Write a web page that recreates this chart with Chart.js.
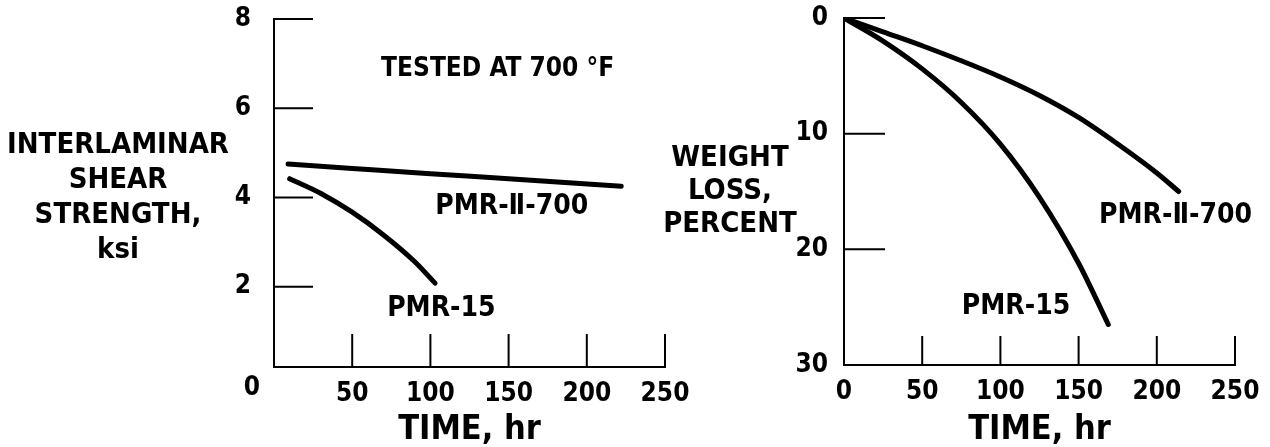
<!DOCTYPE html>
<html>
<head>
<meta charset="utf-8">
<script src="https://cdn.jsdelivr.net/npm/chart.js@4.4.1/dist/chart.umd.min.js"></script>
<style>
  html, body { margin: 0; padding: 0; background: #fff; }
  body { width: 1270px; height: 447px; position: relative; overflow: hidden; }
  canvas { position: absolute; top: 0; }
  #left { left: 0; }
  #right { left: 640px; }
</style>
</head>
<body>
<canvas id="left" width="700" height="447"></canvas>
<canvas id="right" width="630" height="447"></canvas>
<script>
// ---------- data ----------
const timeTicks = [0, 50, 100, 150, 200, 250];
const shearTicks = [2, 4, 6, 8];
const lossTicks = [0, 10, 20, 30];

// Interlaminar shear strength (ksi) vs time (hr), tested at 700 F
const shearPmr2Time = [9, 50, 100, 150, 222];
const shearPmr2Value = [4.75, 4.65, 4.53, 4.42, 4.25];
const shearPmr15Time = [10, 30, 50, 70, 90, 103];
const shearPmr15Value = [4.42, 4.09, 3.67, 3.16, 2.56, 2.08];

// Weight loss (percent) vs time (hr)
const lossPmr2Time = [0, 25, 50, 75, 100, 125, 150, 175, 200, 214];
const lossPmr2Value = [0, 1.2, 2.4, 3.7, 5.1, 6.7, 8.6, 10.9, 13.4, 15.0];
const lossPmr15Time = [0, 25, 50, 75, 100, 125, 150, 169];
const lossPmr15Value = [0, 2.0, 4.4, 7.3, 10.9, 15.5, 21.2, 26.5];

// ---------- styling ----------
const FAMILY = '"Liberation Sans Narrow", "DejaVu Sans Condensed", "Arial Narrow", sans-serif';
const font = (s) => `bold ${s}px ${FAMILY}`;
const zip = (xs, ys) => xs.map((x, i) => ({ x, y: ys[i] }));

const innerPlugin = {
  id: 'inner',
  afterDraw(chart, args, o) {
    const ctx = chart.ctx;
    const { left, bottom } = chart.chartArea;
    const xs = chart.scales.x, ys = chart.scales.y;
    ctx.save();
    ctx.strokeStyle = '#000';
    ctx.lineWidth = 2;
    ctx.lineCap = 'butt';
    xs.ticks.forEach(t => {
      const px = xs.getPixelForValue(t.value);
      if (Math.abs(px - left) < 2) return;
      ctx.beginPath(); ctx.moveTo(px, bottom + 1); ctx.lineTo(px, bottom - o.xTickLen); ctx.stroke();
    });
    ys.ticks.forEach(t => {
      const py = ys.getPixelForValue(t.value);
      if (Math.abs(py - bottom) < 2) return;
      ctx.beginPath(); ctx.moveTo(left - 1, py); ctx.lineTo(left + o.yTickLen, py); ctx.stroke();
    });
    ctx.fillStyle = '#000';
    // horizontal axis title block
    ctx.font = font(o.titleSize);
    ctx.textAlign = 'center';
    ctx.textBaseline = 'alphabetic';
    o.titleLines.forEach((t, i) => {
      ctx.fillText(t, left - o.titleDx, o.titleBase + i * o.titleStep);
    });
    // curve labels
    o.notes.forEach(n => {
      ctx.font = font(n.size);
      ctx.textAlign = 'center';
      ctx.textBaseline = 'middle';
      ctx.fillText(n.text, xs.getPixelForValue(n.x), ys.getPixelForValue(n.y));
    });
    if (o.cornerZero) {
      ctx.font = font(26);
      ctx.textAlign = 'right';
      ctx.textBaseline = 'middle';
      ctx.fillText('0', left - 14, bottom + 21);
    }
    ctx.restore();
  }
};

function makeChart(id, cfg) {
  return new Chart(document.getElementById(id), {
    type: 'line',
    data: {
      datasets: cfg.series.map(s => ({
        data: s,
        borderColor: '#000',
        borderWidth: 5,
        borderCapStyle: 'round',
        borderJoinStyle: 'round',
        pointRadius: 0,
        fill: false,
        cubicInterpolationMode: 'monotone'
      }))
    },
    options: {
      responsive: false,
      devicePixelRatio: 1,
      animation: false,
      events: [],
      layout: { padding: cfg.padding },
      plugins: {
        legend: { display: false },
        tooltip: { enabled: false },
        inner: cfg.inner
      },
      scales: {
        x: {
          type: 'linear',
          position: 'bottom',
          min: 0, max: 250,
          afterBuildTicks: (s) => { s.ticks = timeTicks.map(v => ({ value: v })); },
          afterFit: (s) => { s.height = cfg.xHeight; },
          grid: { display: false },
          border: { display: true, color: '#000', width: 2 },
          ticks: {
            color: '#000', font: { size: 26, weight: 'bold', family: FAMILY },
            padding: 4, maxRotation: 0, autoSkip: false,
            callback: cfg.xLabel
          },
          title: {
            display: true, text: 'TIME, hr', color: '#000',
            font: { size: 34, weight: 'bold', family: FAMILY, lineHeight: 1 },
            padding: { top: 0, bottom: 0 }
          }
        },
        y: {
          type: 'linear',
          position: 'left',
          min: cfg.yMin, max: cfg.yMax, reverse: cfg.reverse,
          afterBuildTicks: (s) => { s.ticks = cfg.yTicks.map(v => ({ value: v })); },
          afterFit: (s) => { s.width = cfg.yWidth; },
          grid: { display: false },
          border: { display: true, color: '#000', width: 2 },
          ticks: {
            color: '#000', font: { size: 26, weight: 'bold', family: FAMILY, lineHeight: 0.2 },
            padding: cfg.yPad, autoSkip: false
          }
        }
      }
    },
    plugins: [innerPlugin]
  });
}

makeChart('left', {
  series: [zip(shearPmr2Time, shearPmr2Value), zip(shearPmr15Time, shearPmr15Value)],
  padding: { top: 19, right: 35, left: 0, bottom: 0 },
  xHeight: 80, yWidth: 274, yPad: 15,
  yMin: 0.2, yMax: 8, reverse: false, yTicks: shearTicks,
  xLabel: (v) => (v === 0 ? '' : String(v)),
  inner: {
    xTickLen: 33, yTickLen: 39,
    titleSize: 29, titleDx: 156, titleBase: 153, titleStep: 35,
    titleLines: ['INTERLAMINAR', 'SHEAR', 'STRENGTH,', 'ksi'],
    cornerZero: true,
    notes: [
      { text: 'TESTED AT 700 °F', x: 143, y: 6.88, size: 26 },
      { text: 'PMR-Ⅱ-700', x: 152, y: 3.79, size: 28 },
      { text: 'PMR-15', x: 107, y: 1.51, size: 28 }
    ]
  }
});

makeChart('right', {
  series: [zip(lossPmr2Time, lossPmr2Value), zip(lossPmr15Time, lossPmr15Value)],
  padding: { top: 18, right: 35, left: 0, bottom: 0 },
  xHeight: 82, yWidth: 204, yPad: 8,
  yMin: 0, yMax: 30, reverse: true, yTicks: lossTicks,
  xLabel: (v) => String(v),
  inner: {
    xTickLen: 29, yTickLen: 41,
    titleSize: 29, titleDx: 114, titleBase: 166, titleStep: 33,
    titleLines: ['WEIGHT', 'LOSS,', 'PERCENT'],
    cornerZero: false,
    notes: [
      { text: 'PMR-Ⅱ-700', x: 212, y: 17.1, size: 28 },
      { text: 'PMR-15', x: 110, y: 25.0, size: 28 }
    ]
  }
});
</script>
</body>
</html>
